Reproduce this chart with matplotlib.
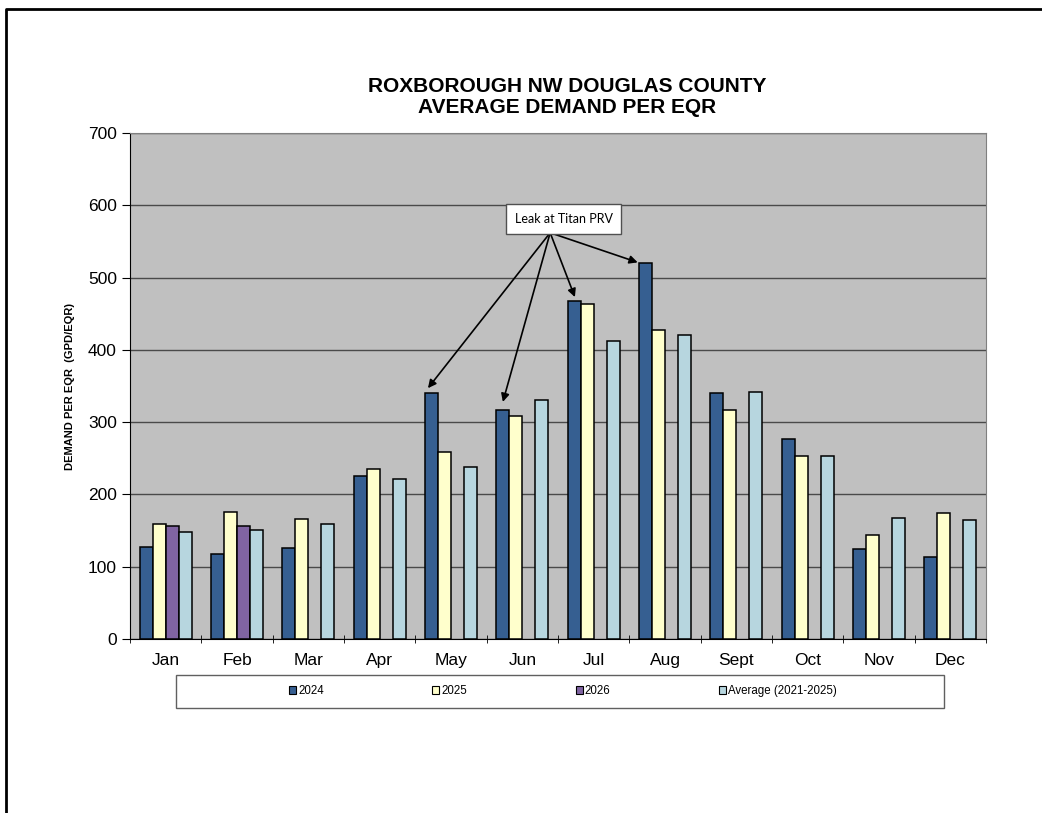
import numpy as np
import matplotlib
matplotlib.use('Agg')
import matplotlib.pyplot as plt
from matplotlib.patches import Rectangle, Patch
from matplotlib.lines import Line2D

plt.rcParams['font.family'] = ['Liberation Sans', 'DejaVu Sans']

# 数据
months = ['Jan', 'Feb', 'Mar', 'Apr', 'May', 'Jun', 'Jul', 'Aug', 'Sept', 'Oct', 'Nov', 'Dec']
y2024 = [127, 118, 126, 225, 341, 317, 468, 520, 340, 276, 125, 113]
y2025 = [159, 176, 166, 235, 259, 309, 463, 428, 317, 253, 144, 175]
y2026 = [156, 157, np.nan, np.nan, np.nan, np.nan, np.nan, np.nan, np.nan, np.nan, np.nan, np.nan]
avg = [148, 151, 159, 221, 238, 330, 412, 421, 342, 253, 168, 165]
series_names = ['2024', '2025', '2026', 'Average (2021-2025)']
colors = ['#365F91', '#FFFFCC', '#8064A2', '#B7D6DF']
# 注释指向的月份
leak_months = ['May', 'Jun', 'Jul', 'Aug']

fig = plt.figure(figsize=(10.42, 8.13), dpi=100)
ax = fig.add_axes([130 / 1042, 1 - 639 / 813, 856 / 1042, 506 / 813])

x = np.arange(len(months))
w = 0.182
for k, vals in enumerate([y2024, y2025, y2026, avg]):
    ax.bar(x + (k - 1.5) * w, vals, width=w, color=colors[k], edgecolor='black',
           linewidth=1.1, zorder=3)

ax.set_facecolor('#C0C0C0')
ax.set_xlim(-0.5, len(months) - 0.5)
ax.set_ylim(0, 700)
ax.set_yticks(np.arange(0, 701, 100))
ax.grid(axis='y', color='#4a4a4a', linewidth=1.0, zorder=1)
ax.set_xticks(x)
ax.set_xticklabels(months, fontsize=12.5)
ax.set_xticks(np.arange(-0.5, len(months), 1), minor=True)
ax.tick_params(axis='x', which='major', length=0, pad=10)
ax.tick_params(axis='x', which='minor', length=6, direction='inout', color='black')
ax.tick_params(axis='y', labelsize=12.5, length=6, direction='out', color='black')
ax.spines['left'].set_color('black')
ax.spines['bottom'].set_color('black')
ax.spines['top'].set_color('#808080')
ax.spines['right'].set_color('#808080')
ax.set_ylabel('DEMAND PER EQR  (GPD/EQR)', fontsize=8, fontweight='bold', labelpad=9)

fig.text(567 / 1042, 1 - 97 / 813, 'ROXBOROUGH NW DOUGLAS COUNTY\nAVERAGE DEMAND PER EQR',
         ha='center', va='center', fontsize=15, fontweight='bold', linespacing=1.12)

# 注释 Leak at Titan PRV
start = (5.39, 562)
ax.text(5.58, 581, 'Leak at Titan PRV', ha='center', va='center', fontsize=9,
        family=['Lato', 'DejaVu Sans'], zorder=6,
        bbox=dict(boxstyle='square,pad=0.7', facecolor='white', edgecolor='#505050', linewidth=1))
offsets = {'May': (-0.05, 6), 'Jun': (0.0, 11), 'Jul': (0.01, 5), 'Aug': (-0.11, 1)}
for m in leak_months:
    i = months.index(m)
    dx, dy = offsets[m]
    tip = (i - 1.5 * w + dx, y2024[i] + dy)
    ax.annotate('', xy=tip, xytext=start, zorder=5,
                arrowprops=dict(arrowstyle='-|>', color='black', lw=1.2,
                                mutation_scale=12, shrinkA=0, shrinkB=0))

# 图例
handles = [Patch(facecolor=c, edgecolor='black', linewidth=0.8) for c in colors]
fig.patches.append(Rectangle((176 / 1042, 1 - 708 / 813), 768 / 1042, 33 / 813,
                             transform=fig.transFigure, facecolor='white',
                             edgecolor='#606060', linewidth=1))
fig.legend(handles, series_names, ncol=4, loc='center', frameon=False,
           bbox_to_anchor=(563 / 1042, 1 - 691 / 813), fontsize=8.3,
           handlelength=0.6, handleheight=0.6, handletextpad=0.2, columnspacing=9.4)

# 页面边框
fig.add_artist(Line2D([6 / 1042, 6 / 1042, 1.0], [0.0, 1 - 9 / 813, 1 - 9 / 813],
                      transform=fig.transFigure, color='black', linewidth=2))

fig.savefig('out.png', dpi=100)
